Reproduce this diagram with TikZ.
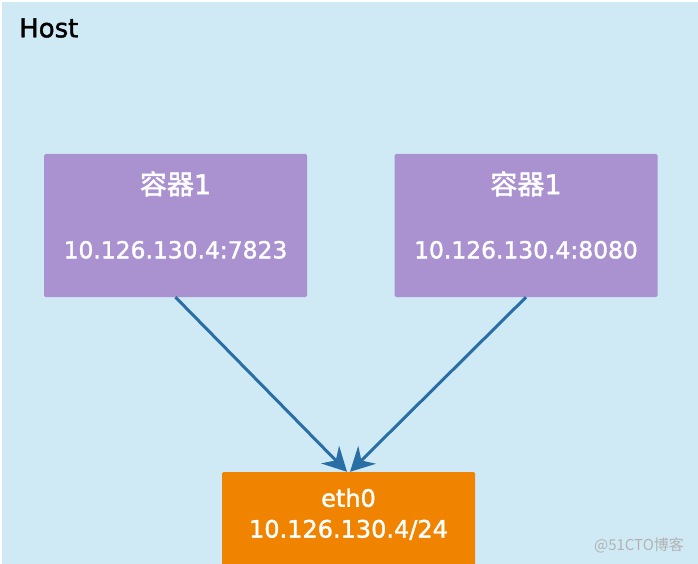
\documentclass[tikz,border=0pt]{standalone}
\usepackage{fontspec}
\setmainfont[FakeBold=1.6]{DejaVu Sans}
\newfontfamily\cjk[FakeBold=1.6]{Noto Sans CJK SC}
\newfontfamily\wmfont{Noto Sans CJK SC}
\usetikzlibrary{positioning}
\usetikzlibrary{arrows.meta}
\definecolor{hostbg}{HTML}{CFEAF5}
\definecolor{ctrfill}{HTML}{A992CF}
\definecolor{ethfill}{HTML}{F08300}
\definecolor{linkblue}{HTML}{296EA5}

\begin{document}
\begin{tikzpicture}[x=1pt, y=-1pt, ctrnode/.style={rectangle, fill=ctrfill, rounded corners=1.5pt, minimum width=263pt, minimum height=143pt, inner sep=0pt}, ethnode/.style={rectangle, fill=ethfill, rounded corners=1.5pt, minimum width=253pt, minimum height=94pt, inner sep=0pt}, title/.style={text=white, font=\fontsize{27}{30}\selectfont, inner sep=0pt}, addr/.style={text=white, font=\fontsize{23.4}{28}\selectfont, inner sep=0pt}, link/.style={draw=linkblue, line width=3pt, -{Stealth[length=24pt, width=25pt, inset=8pt]}}]
			\useasboundingbox (0,0) rectangle (698,564);
			\fill[hostbg] (2,2) rectangle (698,564);
			\node[anchor=west, font=\fontsize{26}{30}\selectfont, inner sep=0pt] (host) at (19,28) {Host};
			\node[ctrnode] (ctra) at (175.5,225.5) {};
			\node[ctrnode] (ctrb) at (526,225.5) {};
			\node[ethnode] (eth) at (348.5,519) {};
			\node[title] (ctratitle) at ([yshift=-30pt]ctra.north) {{\cjk 容器}1};
			\node[addr] (ctraaddr) at ([yshift=-96pt]ctra.north) {10.126.130.4:7823};
			\node[title] (ctrbtitle) at ([yshift=-30pt]ctrb.north) {{\cjk 容器}1};
			\node[addr] (ctrbaddr) at ([yshift=-96pt]ctrb.north) {10.126.130.4:8080};
			\node[addr, font=\fontsize{24}{28}\selectfont] (ethname) at ([yshift=-26pt]eth.north) {eth0};
			\node[addr, font=\fontsize{24}{28}\selectfont] (ethaddr) at ([yshift=-58pt]eth.north) {10.126.130.4/24};
			\node[text=black!30, font=\wmfont\fontsize{15}{18}\selectfont, inner sep=0pt] (wm) at (639,545) {@51CTO博客};
			\draw[link] (ctra.south) -- ([xshift=-1.5pt]eth.north);
			\draw[link] (ctrb.south) -- ([xshift=1.5pt]eth.north);
		\end{tikzpicture}
\end{document}
